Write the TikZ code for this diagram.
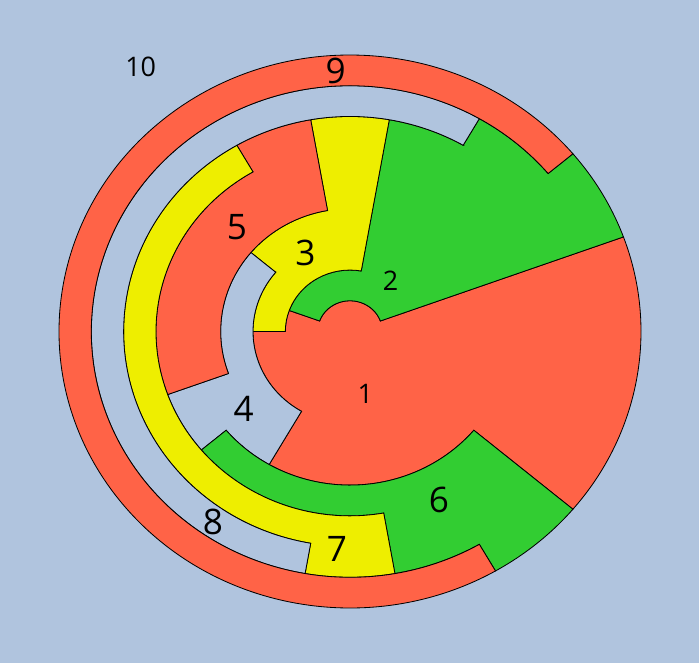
\documentclass[tikz,border=0pt]{standalone}
\usepackage{fontspec}
\setmainfont{Open Sans}
\usepackage{tikz}
\definecolor{tomatored}{HTML}{FF6347}
\definecolor{limegrn}{HTML}{32CD32}
\definecolor{yelw}{HTML}{EEEE00}
\definecolor{steelbg}{HTML}{B0C4DE}
\begin{document}
\begin{tikzpicture}[scale=1,
  part/.style={draw=black,line width=0.7pt,line join=miter},
  biglbl/.style={font=\fontsize{30}{36}\selectfont},
  smalllbl/.style={font=\fontsize{23}{28}\selectfont}]
\path[use as bounding box,fill=steelbg] (-10.5,-9.945) rectangle (10.47,9.945);
\begin{scope}[xscale=1.0525,scale=0.9216]
% 1
\draw[part,fill=tomatored] (20:1) arc[start angle=20,end angle=160,radius=1] -- (160:2)
  arc[start angle=160,end angle=180,radius=2] -- (180:3)
  arc[start angle=180,end angle=240,radius=3] -- (240:5)
  arc[start angle=240,end angle=320,radius=5] -- (320:9)
  arc[start angle=320,end angle=380,radius=9] -- cycle;
% 2
\draw[part,fill=limegrn] (20:1) -- (20:9) arc[start angle=20,end angle=40,radius=9] -- (40:8)
  arc[start angle=40,end angle=60,radius=8] -- (60:7)
  arc[start angle=60,end angle=80,radius=7] -- (80:2)
  arc[start angle=80,end angle=160,radius=2] -- (160:1)
  arc[start angle=160,end angle=20,radius=1] -- cycle;
% 3
\draw[part,fill=yelw] (80:2) -- (80:7) arc[start angle=80,end angle=100,radius=7] -- (100:4)
  arc[start angle=100,end angle=140,radius=4] -- (140:3)
  arc[start angle=140,end angle=180,radius=3] -- (180:2)
  arc[start angle=180,end angle=80,radius=2] -- cycle;
% 4
\draw[part,fill=steelbg] (140:3) -- (140:4) arc[start angle=140,end angle=200,radius=4] -- (200:6)
  arc[start angle=200,end angle=220,radius=6] -- (220:5)
  arc[start angle=220,end angle=240,radius=5] -- (240:3)
  arc[start angle=240,end angle=140,radius=3] -- cycle;
% 5
\draw[part,fill=tomatored] (100:4) -- (100:7) arc[start angle=100,end angle=120,radius=7] -- (120:6)
  arc[start angle=120,end angle=200,radius=6] -- (200:4)
  arc[start angle=200,end angle=100,radius=4] -- cycle;
% 6
\draw[part,fill=limegrn] (220:5) -- (220:6) arc[start angle=220,end angle=280,radius=6] -- (280:8)
  arc[start angle=280,end angle=300,radius=8] -- (300:9)
  arc[start angle=300,end angle=320,radius=9] -- (320:5)
  arc[start angle=320,end angle=220,radius=5] -- cycle;
% 7
\draw[part,fill=yelw] (120:6) -- (120:7) arc[start angle=120,end angle=260,radius=7] -- (260:8)
  arc[start angle=260,end angle=280,radius=8] -- (280:6)
  arc[start angle=280,end angle=120,radius=6] -- cycle;
% 8
\draw[part,fill=steelbg] (60:7) -- (60:8) arc[start angle=60,end angle=260,radius=8] -- (260:7)
  arc[start angle=260,end angle=60,radius=7] -- cycle;
% 9
\draw[part,fill=tomatored] (40:8) -- (40:9) arc[start angle=40,end angle=300,radius=9] -- (300:8)
  arc[start angle=300,end angle=40,radius=8] -- cycle;
\end{scope}
\node[smalllbl] (l1) at (0.46,-1.88) {1};
\node[smalllbl] (l2) at (1.22,1.53) {2};
\node[biglbl] (l3) at (-1.34,2.36) {3};
\node[biglbl] (l4) at (-3.19,-2.32) {4};
\node[biglbl] (l5) at (-3.39,3.14) {5};
\node[biglbl] (l6) at (2.67,-5.06) {6};
\node[biglbl] (l7) at (-0.39,-6.53) {7};
\node[biglbl] (l8) at (-4.11,-5.71) {8};
\node[biglbl] (l9) at (-0.43,7.82) {9};
\node[smalllbl] (l10) at (-6.28,7.93) {10};
\end{tikzpicture}
\end{document}
